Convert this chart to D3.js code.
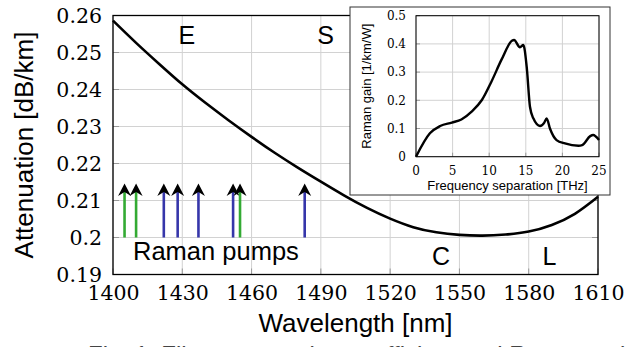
<!DOCTYPE html>
<html><head><meta charset="utf-8">
<script src="https://cdn.jsdelivr.net/npm/d3@7"></script>
<style>html,body{margin:0;padding:0;background:#fff;overflow:hidden}</style>
</head><body>
<svg id="c" width="638" height="347"></svg>
<script>
// ---- data ----
const wavelengths = [1400,1410,1420,1430,1440,1450,1460,1470,1480,1490,1500,1510,1520,1530,1540,1550,1560,1570,1580,1590,1600,1610];
const attenuation = [0.2586,0.2526,0.2469,0.2414,0.2364,0.2317,0.2272,0.2229,0.2189,0.2151,0.2114,0.2080,0.2051,0.2028,0.2014,0.2007,0.2005,0.2008,0.2016,0.2034,0.2064,0.2110];
const xTicks = [1400,1430,1460,1490,1520,1550,1580,1610];
const yTicks = [0.19,0.2,0.21,0.22,0.23,0.24,0.25,0.26];
const yTickLabels = ["0.19","0.2","0.21","0.22","0.23","0.24","0.25","0.26"];
const bands = ["E","S","C","L"];
const bandWavelength = [1432,1492,1542,1589];
const bandValue = [0.2524,0.2524,0.1927,0.1927];
const pumpWavelengths = [1405,1410,1422,1428,1437,1452,1455,1483];
const pumpGroup = ["g","g","b","b","b","b","g","b"];
const pumpBase = 0.2, pumpTip = 0.2146;
const freqTHz = [0,1.9,3.3,4.9,6.2,7.6,9.0,10.3,11.7,13.1,13.4,14.2,14.66,15.12,15.57,16.03,16.94,17.53,17.85,18.3,19.2,20.35,22.2,22.7,23.8,24.2,25];
const ramanGain = [0,0.083,0.109,0.121,0.132,0.160,0.201,0.266,0.345,0.411,0.414,0.388,0.396,0.319,0.177,0.136,0.109,0.121,0.136,0.100,0.059,0.047,0.039,0.041,0.073,0.077,0.059];
const insetXTicks = [0,5,10,15,20,25];
const insetYTicks = [0,0.1,0.2,0.3,0.4,0.5];
const insetYTickLabels = ["0","0.1","0.2","0.3","0.4","0.5"];
const caption = "Fig. 1: Fiber attenuation coefficient and Raman gain";

// ---- drawing ----
const svg = d3.select("#c");
const GRID = "#d2d2d2";
const SERIF = '"DejaVu Serif", serif';
const SANS = '"Liberation Sans", Arial, sans-serif';

const x = d3.scaleLinear().domain([1400,1610]).range([113,598]);
const y = d3.scaleLinear().domain([0.19,0.26]).range([274.5,15.5]);

const main = svg.append("g");
// grid
main.selectAll("line.vg").data(xTicks).join("line")
  .attr("x1",d=>x(d)).attr("x2",d=>x(d)).attr("y1",y.range()[1]).attr("y2",y.range()[0])
  .attr("stroke",GRID).attr("stroke-width",1);
main.selectAll("line.hg").data(yTicks).join("line")
  .attr("y1",d=>y(d)).attr("y2",d=>y(d)).attr("x1",x.range()[0]).attr("x2",x.range()[1])
  .attr("stroke",GRID).attr("stroke-width",1);
// inward ticks
const tk = 6;
main.selectAll("line.tb").data(xTicks).join("line")
  .attr("x1",d=>x(d)).attr("x2",d=>x(d)).attr("y1",y(0.19)).attr("y2",y(0.19)-tk).attr("stroke","#999");
main.selectAll("line.tl").data(yTicks).join("line")
  .attr("y1",d=>y(d)).attr("y2",d=>y(d)).attr("x1",x(1400)).attr("x2",x(1400)+tk).attr("stroke","#999");
main.selectAll("line.tr").data(yTicks).join("line")
  .attr("y1",d=>y(d)).attr("y2",d=>y(d)).attr("x1",x(1610)).attr("x2",x(1610)-tk).attr("stroke","#999");

// axes via d3
const xAxis = d3.axisBottom(x).tickValues(xTicks).tickSize(0).tickPadding(11).tickFormat(d3.format("d"));
const gx = main.append("g").attr("transform",`translate(0,${y(0.19)})`).call(xAxis);
gx.attr("font-family",null).attr("font-size",null);
gx.select(".domain").remove();
gx.selectAll("text").style("font-family",SERIF).style("font-size","20.5px").attr("fill","#000").attr("dy","0.71em");
const yAxis = d3.axisLeft(y).tickValues(yTicks).tickSize(0).tickPadding(11).tickFormat((d,i)=>yTickLabels[i]);
const gy = main.append("g").attr("transform",`translate(${x(1400)},0)`).call(yAxis);
gy.attr("font-family",null).attr("font-size",null);
gy.select(".domain").remove();
gy.selectAll("text").style("font-family",SERIF).style("font-size","20.5px").attr("fill","#000");

// pumps
const pumpColor = {g:"#33aa33", b:"#3636aa"};
const pumps = main.append("g");
pumpWavelengths.forEach((w,i)=>{
  const px = x(w), tipY = y(pumpTip);
  pumps.append("line").attr("x1",px).attr("x2",px).attr("y1",y(pumpBase)).attr("y2",tipY+8)
    .attr("stroke",pumpColor[pumpGroup[i]]).attr("stroke-width",2.6);
  pumps.append("path")
    .attr("d",`M${px},${tipY} L${px+6.5},${tipY+12.5} L${px},${tipY+8.5} L${px-6.5},${tipY+12.5} Z`)
    .attr("fill","#000");
});

// curve
const line = d3.line().x(d=>x(d[0])).y(d=>y(d[1])).curve(d3.curveNatural);
main.append("path").datum(wavelengths.map((w,i)=>[w,attenuation[i]]))
  .attr("d",line).attr("fill","none").attr("stroke","#000").attr("stroke-width",2.6);

// band labels
main.selectAll("text.band").data(bands).join("text").style("font-family",SANS)
  .attr("x",(d,i)=>x(bandWavelength[i])).attr("y",(d,i)=>y(bandValue[i]))
  .attr("text-anchor","middle").style("font-size","25px").text(d=>d);
main.append("text").style("font-family",SANS).attr("x",133).attr("y",259.5).style("font-size","25.5px").text("Raman pumps");

// frame
main.append("rect").attr("x",x(1400)).attr("y",y(0.26)).attr("width",x(1610)-x(1400)).attr("height",y(0.19)-y(0.26))
  .attr("fill","none").attr("stroke","#000").attr("stroke-width",1.3);

// axis titles
svg.append("text").style("font-family",SANS).attr("transform",`translate(33,${(y(0.19)+y(0.26))/2}) rotate(-90)`)
  .attr("text-anchor","middle").style("font-size","26px").text("Attenuation [dB/km]");
svg.append("text").style("font-family",SANS).attr("x",(x(1400)+x(1610))/2).attr("y",332).attr("text-anchor","middle")
  .style("font-size","26px").text("Wavelength [nm]");
// caption (cut by the bottom edge of the window, as in the reference)
svg.append("text").style("font-family",SANS).attr("x",88).attr("y",363).style("font-size","24px").attr("fill","#444")
  .text(caption);

// ---- inset ----
const ins = svg.append("g");
ins.append("rect").attr("x",350).attr("y",7).attr("width",260).attr("height",188)
  .attr("fill","#fff").attr("stroke","#333").attr("stroke-width",1);
const xi = d3.scaleLinear().domain([0,25]).range([416,599]);
const yi = d3.scaleLinear().domain([0,0.5]).range([156.7,15.7]);
ins.selectAll("line.vg").data(insetXTicks).join("line")
  .attr("x1",d=>xi(d)).attr("x2",d=>xi(d)).attr("y1",yi(0.5)).attr("y2",yi(0)).attr("stroke",GRID);
ins.selectAll("line.hg").data(insetYTicks).join("line")
  .attr("y1",d=>yi(d)).attr("y2",d=>yi(d)).attr("x1",xi(0)).attr("x2",xi(25)).attr("stroke",GRID);
ins.selectAll("line.tl").data(insetYTicks).join("line")
  .attr("y1",d=>yi(d)).attr("y2",d=>yi(d)).attr("x1",xi(0)).attr("x2",xi(0)+4).attr("stroke","#999");
ins.selectAll("line.tb").data(insetXTicks).join("line")
  .attr("x1",d=>xi(d)).attr("x2",d=>xi(d)).attr("y1",yi(0)).attr("y2",yi(0)-4).attr("stroke","#999");
ins.selectAll("text.xt").data(insetXTicks).join("text").style("font-family",SERIF)
  .attr("x",d=>xi(d)).attr("y",174.5).attr("text-anchor","middle")
  .style("font-size","12px").text(d=>d);
ins.selectAll("text.yt").data(insetYTicks).join("text").style("font-family",SERIF)
  .attr("x",406).attr("y",d=>yi(d)).attr("text-anchor","end").attr("dy","0.36em")
  .style("font-size","12px").text((d,i)=>insetYTickLabels[i]);
const lineI = d3.line().x(d=>xi(d[0])).y(d=>yi(d[1])).curve(d3.curveMonotoneX);
ins.append("path").datum(freqTHz.map((f,i)=>[f,ramanGain[i]]))
  .attr("d",lineI).attr("fill","none").attr("stroke","#000").attr("stroke-width",2.4);
ins.append("rect").attr("x",xi(0)).attr("y",yi(0.5)).attr("width",xi(25)-xi(0)).attr("height",yi(0)-yi(0.5))
  .attr("fill","none").attr("stroke","#000").attr("stroke-width",1);
ins.append("text").style("font-family",SANS).attr("transform",`translate(371,${(yi(0)+yi(0.5))/2}) rotate(-90)`).attr("text-anchor","middle")
  .style("font-size","13px").text("Raman gain [1/km/W]");
ins.append("text").style("font-family",SANS).attr("x",(xi(0)+xi(25))/2).attr("y",190).attr("text-anchor","middle")
  .style("font-size","13px").text("Frequency separation [THz]");
</script>
</body></html>
